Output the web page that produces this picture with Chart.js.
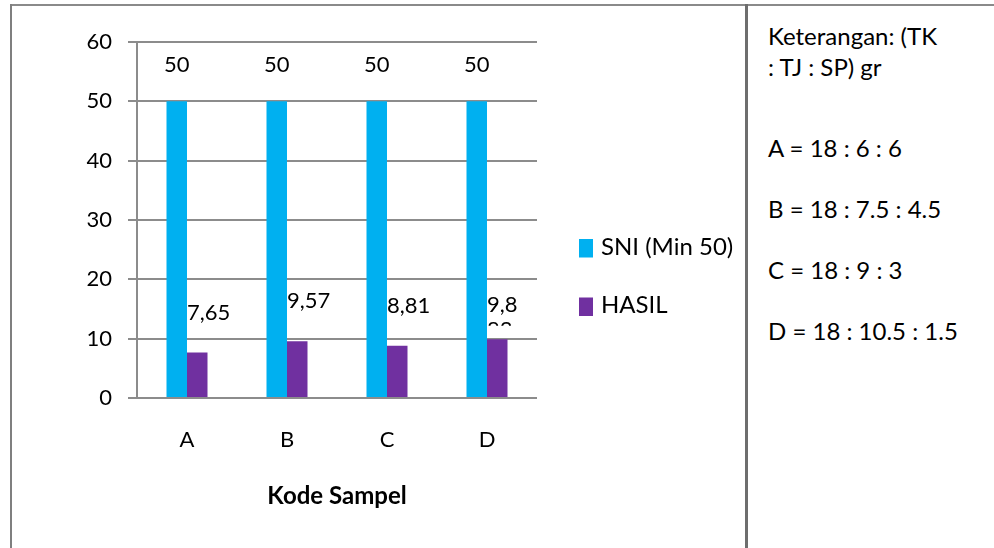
<!DOCTYPE html>
<html>
<head>
<meta charset="utf-8">
<title>Kode Sampel</title>
<script src="https://cdn.jsdelivr.net/npm/chart.js@4.4.1/dist/chart.umd.min.js"></script>
<style>
  body { margin: 0; background: #fff; }
  #wrap { position: relative; width: 994px; height: 548px; overflow: hidden; font-family: Lato, sans-serif; color: #000; }
  #chart { position: absolute; left: 0; top: 0; }
  .line { position: absolute; background: #8a8a8a; }
  #frameTop { left: 10px; top: 4px; width: 984px; height: 2px; }
  #frameLeft { left: 10px; top: 4px; width: 2px; height: 544px; background: #7f7f7f; }
  #divider { left: 745px; top: 4px; width: 3px; height: 544px; background: #6e6e6e; }
  #note { position: absolute; left: 768px; top: 20px; font-size: 24px; line-height: 31px; }
  #note p { margin: 30px 0 0 0; }
  #note p.head { margin: 0; }
  #note p.first { margin-top: 50px; }
</style>
</head>
<body>
<div id="wrap">
  <canvas id="chart" width="746" height="548"></canvas>
  <div class="line" id="frameTop"></div>
  <div class="line" id="frameLeft"></div>
  <div class="line" id="divider"></div>
  <div id="note"></div>
</div>
<script>
// data
const categories = ['A', 'B', 'C', 'D'];
const sniValues = [50, 50, 50, 50];
const hasilValues = [7.65, 9.57, 8.81, 9.883];
const seriesNames = ['SNI (Min 50)', 'HASIL'];
const seriesColors = ['#00B0F0', '#7030A0'];
const yTicks = [0, 10, 20, 30, 40, 50, 60];
const noteHead = ['Keterangan: (TK', ': TJ : SP) gr'];
const noteLines = ['A = 18 : 6 : 6', 'B = 18 : 7.5 : 4.5', 'C = 18 : 9 : 3', 'D = 18 : 10.5 : 1.5'];

// keterangan di kolom kanan
const note = document.getElementById('note');
note.innerHTML = '<p class="head">' + noteHead.join('<br>') + '</p>' +
  noteLines.map((t, i) => '<p' + (i === 0 ? ' class="first"' : '') + '>' + t + '</p>').join('');

const fmt = v => String(v).replace('.', ',');
const FONT = 'Lato';

// label nilai di atas batang
const valueLabels = {
  id: 'valueLabels',
  afterDatasetsDraw(chart) {
    const ctx = chart.ctx;
    ctx.save();
    ctx.font = '22px ' + FONT;
    ctx.fillStyle = '#000';
    ctx.textBaseline = 'middle';
    chart.getDatasetMeta(0).data.forEach((bar, i) => {
      ctx.textAlign = 'center';
      ctx.fillText(fmt(sniValues[i]), bar.x, bar.y - 36);
    });
    chart.getDatasetMeta(1).data.forEach((bar, i) => {
      const txt = fmt(hasilValues[i]);
      const left = bar.x - bar.width / 2;
      ctx.textAlign = 'left';
      if (txt.length > 4) {
        // kotak label terlalu sempit: teks turun ke baris kedua dan terpotong
        const y1 = bar.y - 34;
        ctx.fillText(txt.slice(0, 3), left, y1);
        ctx.save();
        ctx.beginPath();
        ctx.rect(left - 2, y1, 60, 20.5);
        ctx.clip();
        ctx.fillText(txt.slice(3), left, y1 + 25);
        ctx.restore();
      } else {
        ctx.fillText(txt, left, bar.y - 40);
      }
    });
    ctx.restore();
  }
};

// legenda di sebelah kanan plot
const sideLegend = {
  id: 'sideLegend',
  afterDraw(chart) {
    const ctx = chart.ctx;
    const x0 = 579, y0 = 239, gap = 58.5;
    ctx.save();
    ctx.font = '24px ' + FONT;
    ctx.textBaseline = 'middle';
    ctx.textAlign = 'left';
    chart.data.datasets.forEach((ds, i) => {
      const y = y0 + i * gap;
      ctx.fillStyle = ds.backgroundColor;
      ctx.fillRect(x0, y, 14, 18.5);
      ctx.fillStyle = '#000';
      ctx.fillText(ds.label, x0 + 22, y + 8);
    });
    ctx.restore();
  }
};

new Chart(document.getElementById('chart'), {
  type: 'bar',
  data: {
    labels: categories,
    datasets: [
      { label: seriesNames[0], data: sniValues, backgroundColor: seriesColors[0], categoryPercentage: 0.41, barPercentage: 1 },
      { label: seriesNames[1], data: hasilValues, backgroundColor: seriesColors[1], categoryPercentage: 0.41, barPercentage: 1 }
    ]
  },
  options: {
    responsive: false,
    animation: false,
    devicePixelRatio: 1,
    layout: { padding: { top: 42, right: 209, left: 0, bottom: 0 } },
    plugins: {
      legend: { display: false },
      tooltip: { enabled: false }
    },
    scales: {
      x: {
        grid: { display: false, drawTicks: false },
        border: { display: false },
        ticks: { color: '#000', font: { family: FONT, size: 22 }, padding: 29 },
        title: {
          display: true,
          text: 'Kode Sampel',
          color: '#000',
          font: { family: FONT, size: 24, weight: 'bold' },
          padding: { top: 0, bottom: 37 }
        },
        afterFit: s => { s.height = 150; }
      },
      y: {
        min: 0,
        max: 60,
        afterBuildTicks: s => { s.ticks = yTicks.map(v => ({ value: v })); },
        grid: { color: '#8c8c8c', lineWidth: 2, tickLength: 9 },
        border: { color: '#8c8c8c', width: 2 },
        ticks: { color: '#000', font: { family: FONT, size: 22 }, padding: 16 },
        afterFit: s => { s.width = 137; }
      }
    }
  },
  plugins: [valueLabels, sideLegend]
});
</script>
</body>
</html>
